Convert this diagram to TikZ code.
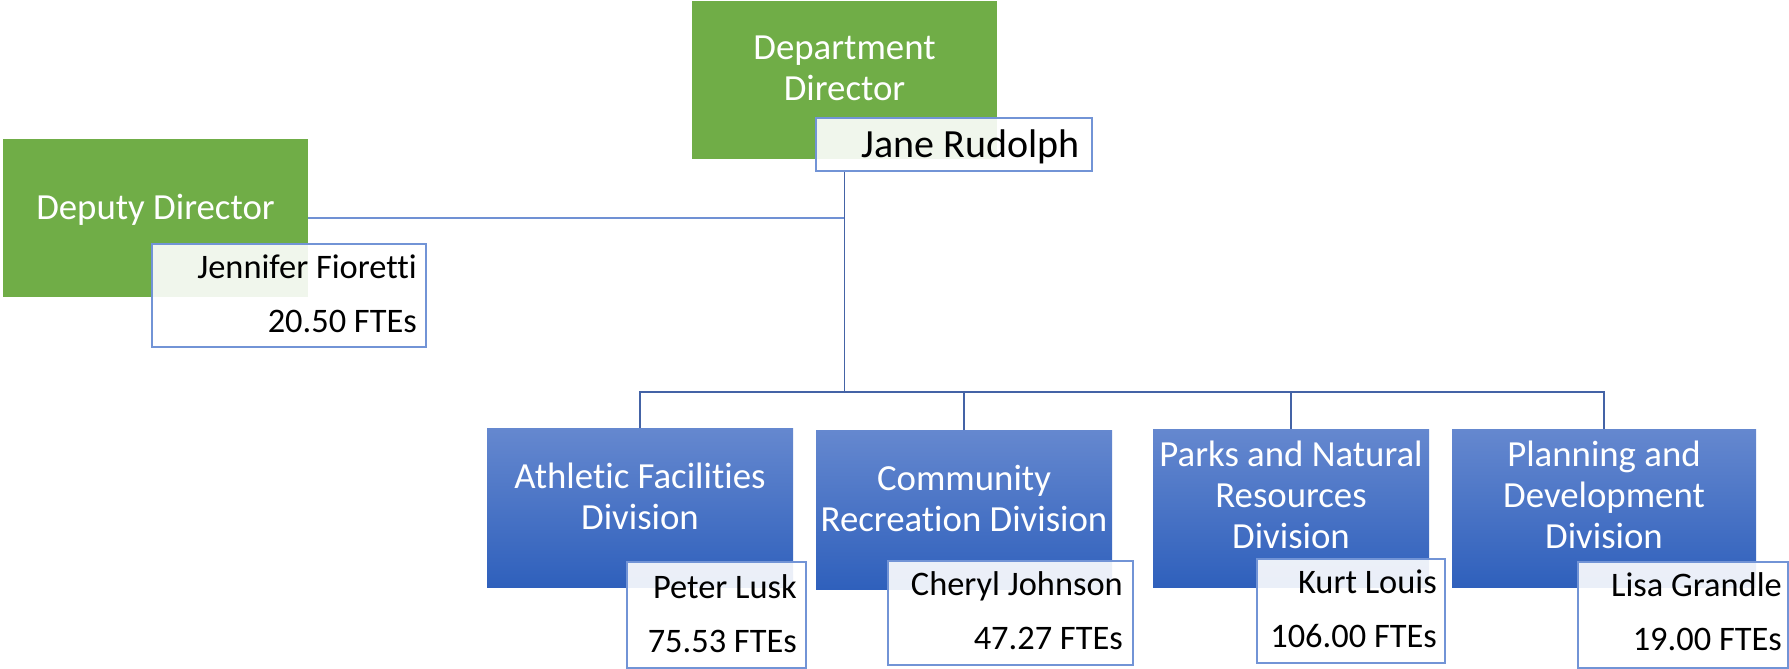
\documentclass[tikz,border=0pt]{standalone}
\usepackage{fontspec}
\setmainfont{Carlito}[Ligatures=NoCommon]
\definecolor{grn}{RGB}{112,173,71}
\definecolor{bluetop}{RGB}{101,136,207}
\definecolor{bluebot}{RGB}{47,96,188}
\definecolor{nmline}{RGB}{114,148,214}
\definecolor{conncol}{RGB}{68,99,166}
\definecolor{conncoll}{RGB}{112,145,212}
\begin{document}
\begin{tikzpicture}[x=1pt,y=-1pt,
  gbox/.style={fill=grn, draw=none, inner sep=0pt, outer sep=0pt},
  bbox/.style={top color=bluetop, bottom color=bluebot, draw=none, inner sep=0pt, outer sep=0pt},
  nbox/.style={draw=nmline, line width=1.2pt, fill=white, fill opacity=0.9, inner sep=0pt, outer sep=0pt},
  conn/.style={draw=conncol, line width=1.3pt},
  hdr/.style={text=white, font=\fontsize{36.8}{41}\selectfont, align=center, inner sep=0pt, anchor=base},
  nm/.style={text=black, font=\fontsize{34.4}{54}\selectfont, align=right, inner sep=0pt, anchor=base east},
  sz/.style 2 args={minimum width=#1pt, minimum height=#2pt}]
\useasboundingbox (0,0) rectangle (1789,669);

% boxes (positions)
\node[gbox, sz={305}{158}] (dd) at (844.5,80) {};
\node[gbox, sz={305}{158}] (dep) at (155.5,218) {};
\node[bbox, sz={306}{159}] (afd) at (640,507.5) {};
\node[bbox, sz={296}{159}] (crd) at (964,509.5) {};
\node[bbox, sz={276}{158}] (pnr) at (1291,508) {};
\node[bbox, sz={304}{158}] (pdd) at (1604,508) {};
\coordinate (bus) at (844.5,392);

% connectors (drawn before the name boxes)
\draw[conn, draw=conncoll] (dep.east) -- (dep.east -| dd.south);
\draw[conn] (dd.south |- 0,171) -- (bus);
\draw[conn] (afd.north) |- (bus) -| (pdd.north);
\draw[conn] (crd.north) -- (crd.north |- bus);
\draw[conn] (pnr.north) -- (pnr.north |- bus);

% name boxes
\node[nbox, sz={276}{53}] (jane) at (954,144.5) {};
\node[nbox, sz={274}{103}] (jen) at (289,295.5) {};
\node[nbox, sz={179}{106}] (peter) at (716.5,615) {};
\node[nbox, sz={245}{104}] (cheryl) at (1010.5,613) {};
\node[nbox, sz={188}{104}] (kurt) at (1351,611) {};
\node[nbox, sz={210}{106}] (lisa) at (1683,615) {};

% header texts (anchor = baseline of last line)
\node[hdr] (ddt) at (844.5,100) {Department\\Director};
\node[hdr] (dept) at (155.5,219) {Deputy Director};
\node[hdr] (afdt) at (640,529) {Athletic Facilities\\Division};
\node[hdr] (crdt) at (964,531) {Community\\Recreation Division};
\node[hdr] (pnrt) at (1291,548) {Parks and Natural\\Resources\\Division};
\node[hdr] (pddt) at (1604,548) {Planning and\\Development\\Division};

% name texts (anchor = baseline of last line)
\node[nm, font=\fontsize{40}{48}\selectfont] (janet) at (1080,157) {Jane Rudolph};
\node[nm] (jent) at (417,332) {Jennifer Fioretti\\20.50 FTEs};
\node[nm] (petert) at (797,652) {Peter Lusk\\75.53 FTEs};
\node[nm] (cherylt) at (1123,649) {Cheryl Johnson\\47.27 FTEs};
\node[nm] (kurtt) at (1437,647) {Kurt Louis\\106.00 FTEs};
\node[nm] (lisat) at (1782,650) {Lisa Grandle\\19.00 FTEs};
\end{tikzpicture}
\end{document}
